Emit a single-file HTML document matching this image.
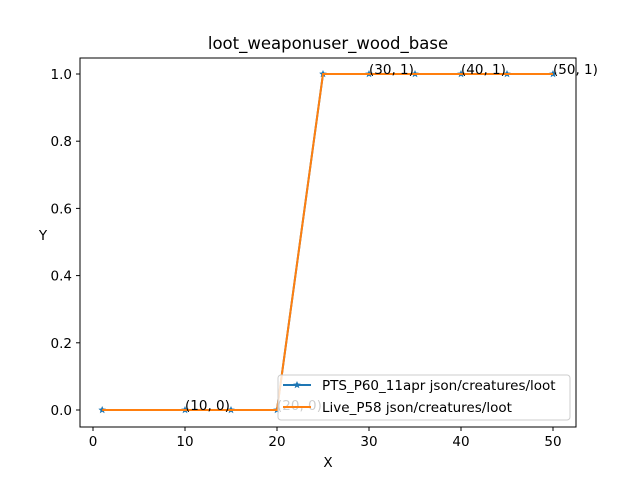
<!DOCTYPE html>
<html><head><meta charset="utf-8"><style>body{margin:0;background:#fff}svg{font-family:"DejaVu Sans","Liberation Sans",sans-serif}</style></head>
<body>
<svg id="c" width="640" height="480" xmlns="http://www.w3.org/2000/svg"></svg>
<script>
const xs=[1,10,15,20,25,30,35,40,45,50];
const ptsY=[0,0,0,0,1,1,1,1,1,1];
const liveY=[0,0,0,0,1,1,1,1,1,1];
const annX=[10,20,30,40,50];
const annY=[0,0,1,1,1];
const xTicks=[0,10,20,30,40,50];
const yTicks=[0,0.2,0.4,0.6,0.8,1.0];
const NS="http://www.w3.org/2000/svg";
const svg=document.getElementById('c');
const sx=v=>93+(v-0)*9.2;
const sy=v=>410-v*336;
function el(t,a,txt){const e=document.createElementNS(NS,t);for(const k in a)e.setAttribute(k,a[k]);if(txt!==undefined)e.textContent=txt;svg.appendChild(e);return e;}
let e;
e=el('rect',{x:80,y:58,width:496,height:369,fill:'#fff',stroke:'#000','stroke-width':1});


e=el('text',{x:328,y:49,'text-anchor':'middle','font-size':16.5},'loot_weaponuser_wood_base');


xTicks.forEach(t=>{
  e=el('line',{x1:sx(t),x2:sx(t),y1:427,y2:431,stroke:'#000'});
  
  
  e=el('text',{x:sx(t),y:446,'text-anchor':'middle','font-size':13.5},String(t));
  
  
});
yTicks.forEach(t=>{
  e=el('line',{x1:76,x2:80,y1:sy(t),y2:sy(t),stroke:'#000'});
  
  
  e=el('text',{x:72,y:sy(t)+5,'text-anchor':'end','font-size':13.5},t.toFixed(1));
  
  
});
e=el('text',{x:328,y:467,'text-anchor':'middle','font-size':13.5},'X');


e=el('text',{x:43,y:240,'text-anchor':'middle','font-size':13.5},'Y');


function star(cx,cy,r,col){let p=[];for(let i=0;i<10;i++){const a=-Math.PI/2+i*Math.PI/5,rr=i%2?r*0.45:r;p.push((cx+rr*Math.cos(a)).toFixed(1)+','+(cy+rr*Math.sin(a)).toFixed(1));}return el('polygon',{points:p.join(' '),fill:col});}
e=el('polyline',{points:xs.map((x,i)=>sx(x)+','+sy(ptsY[i])).join(' '),fill:'none',stroke:'#1f77b4','stroke-width':2});


xs.forEach((x,i)=>{e=star(sx(x),sy(ptsY[i]),4,'#1f77b4');
  
  });
e=el('polyline',{points:xs.map((x,i)=>sx(x)+','+sy(liveY[i])).join(' '),fill:'none',stroke:'#ff7f0e','stroke-width':2});


annX.forEach((x,i)=>{
  e=el('text',{x:sx(x),y:sy(annY[i])+0,'font-size':13.5},'('+x+', '+annY[i]+')');
  
  
});
e=el('rect',{x:278,y:375,width:292,height:45,rx:3,fill:'#fff','fill-opacity':0.8,stroke:'#ccc'});


e=el('line',{x1:283,x2:311,y1:385,y2:385,stroke:'#1f77b4','stroke-width':2});


e=star(297,385,4,'#1f77b4');


e=el('text',{x:322,y:390,'font-size':13.5},'PTS_P60_11apr json/creatures/loot');


e=el('line',{x1:283,x2:311,y1:407,y2:407,stroke:'#ff7f0e','stroke-width':2});


e=el('text',{x:322,y:412,'font-size':13.5},'Live_P58 json/creatures/loot');


</script>
</body></html>
